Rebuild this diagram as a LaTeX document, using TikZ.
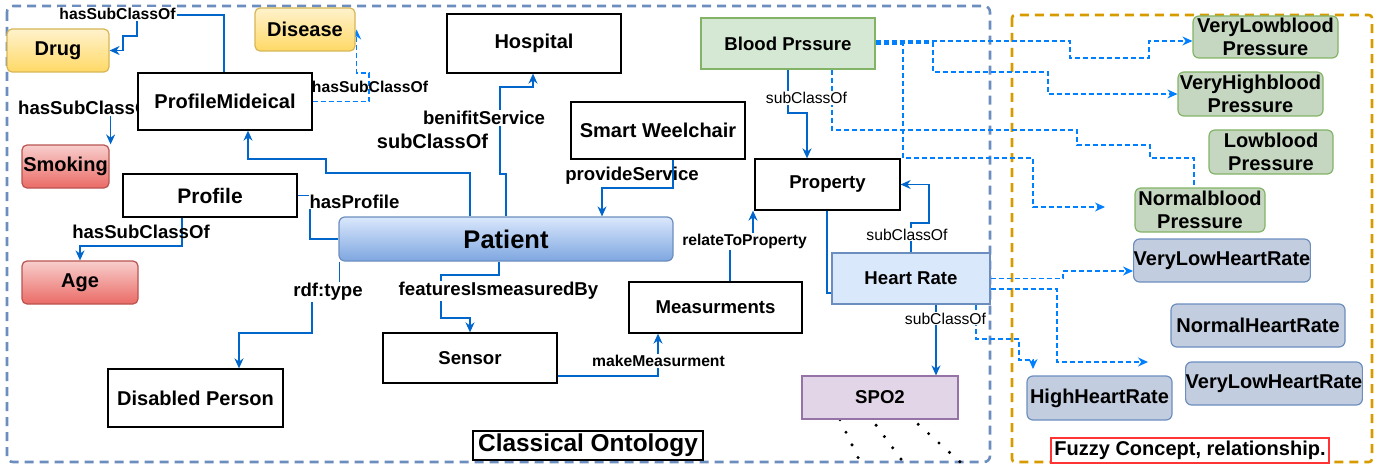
\documentclass[tikz,border=0pt]{standalone}
\usepackage{fontspec}
\setmainfont{Liberation Sans}
\usepackage{tikz}
\usetikzlibrary{arrows.meta}
\usepackage{xcolor}
\definecolor{ontoframe}{HTML}{6C8EBF}
\definecolor{fuzzyframe}{HTML}{D79B00}
\definecolor{linkblue}{HTML}{0066CC}
\definecolor{dashblue}{HTML}{007FFF}
\definecolor{yellowtop}{HTML}{FFF2CC}
\definecolor{yellowbot}{HTML}{FFD966}
\definecolor{yellowline}{HTML}{D6B656}
\definecolor{redtop}{HTML}{F8CECC}
\definecolor{redbot}{HTML}{EA6B66}
\definecolor{redline}{HTML}{B85450}
\definecolor{bluetop}{HTML}{DAE8FC}
\definecolor{bluebot}{HTML}{7EA6E0}
\definecolor{greenfill}{HTML}{D5E8D4}
\definecolor{greenline}{HTML}{82B366}
\definecolor{purplefill}{HTML}{E1D5E7}
\definecolor{purpleline}{HTML}{9673A6}
\definecolor{fuzzygreen}{HTML}{C5D7C1}
\definecolor{fuzzyblue}{HTML}{C3CDE0}
\definecolor{notered}{HTML}{FF3333}

\newcommand{\boxfont}{\bfseries\fontsize{20}{22}\selectfont}
\newcommand{\midfont}{\bfseries\fontsize{18.6}{21}\selectfont}
\newcommand{\labfont}{\bfseries\fontsize{18.6}{21}\selectfont}
\newcommand{\smalllabfont}{\bfseries\fontsize{15.7}{18}\selectfont}
\newcommand{\thinlabfont}{\fontsize{15.7}{18}\selectfont}

\pgfdeclarelayer{edges}
\pgfdeclarelayer{labels}
\pgfsetlayers{edges,labels,main}

\begin{document}
\begin{tikzpicture}[x=1pt, y=-1pt, >={Stealth[length=10pt,width=9pt]},
    box/.style={draw=black, line width=1.3pt, fill=white, inner sep=0pt, font=\boxfont},
    yellowbox/.style={draw=yellowline, line width=1.2pt, top color=yellowtop, bottom color=yellowbot, rounded corners=5pt, inner sep=0pt, font=\boxfont},
    redbox/.style={draw=redline, line width=1.2pt, top color=redtop, bottom color=redbot, rounded corners=5pt, inner sep=0pt, font=\boxfont},
    patientbox/.style={draw=ontoframe, line width=1.2pt, top color=bluetop, bottom color=bluebot, rounded corners=6pt, inner sep=0pt, font=\bfseries\fontsize{25.5}{27}\selectfont},
    fuzzybp/.style={draw=greenline, line width=1.2pt, fill=fuzzygreen, rounded corners=6pt, inner sep=0pt, align=center, font=\bfseries\fontsize{20}{23}\selectfont},
    fuzzyhr/.style={draw=ontoframe, line width=1.2pt, fill=fuzzyblue, rounded corners=6pt, inner sep=0pt, font=\boxfont},
    link/.style={draw=linkblue, line width=1.4pt},
    dlink/.style={draw=dashblue, line width=1.2pt, dash pattern=on 5pt off 3pt},
    dotline/.style={draw=black, line width=3.4pt, line cap=round, dash pattern=on 0pt off 14pt},
    lab/.style={font=\labfont, inner sep=1pt, fill=white},
    slab/.style={font=\smalllabfont, inner sep=1pt, fill=white},
    rlab/.style={font=\thinlabfont, inner sep=1pt, fill=white}]
    \useasboundingbox (0,0) rectangle (1391,468);

    % Nodes of the classical ontology
    \node[yellowbox, minimum width=102pt, minimum height=43pt] (drug) at (58,50.5) {Drug};
    \node[yellowbox, minimum width=100pt, minimum height=43pt] (disease) at (305,29.5) {Disease};
    \node[box, minimum width=174pt, minimum height=57pt] (pmed) at (225,101.5) {ProfileMideical};
    \node[redbox, minimum width=87pt, minimum height=43pt] (smoking) at (65.5,166.5) {Smoking};
    \node[box, minimum width=174pt, minimum height=43pt, font=\bfseries\fontsize{21}{23}\selectfont] (profile) at (210,195.5) {Profile};
    \node[redbox, minimum width=116pt, minimum height=43pt] (age) at (80,282.5) {Age};
    \node[box, minimum width=175pt, minimum height=58pt] (disabled) at (195.5,398) {Disabled Person};
    \node[box, minimum width=174pt, minimum height=59pt] (hospital) at (534,43.5) {Hospital};
    \node[box, minimum width=174pt, minimum height=57pt] (wheelchair) at (658,130.5) {Smart Weelchair};
    \node[patientbox, minimum width=334pt, minimum height=44pt] (patient) at (506,239) {Patient};
    \node[box, minimum width=174pt, minimum height=50pt, font=\midfont] (sensor) at (470,358) {Sensor};
    \node[box, minimum width=173pt, minimum height=51pt, font=\midfont] (measure) at (715.5,307.5) {Measurments};
    \node[draw=greenline, line width=1.2pt, fill=greenfill, inner sep=0pt, font=\midfont, minimum width=174pt, minimum height=51pt] (bp) at (788,43.5) {Blood Prssure};
    \node[box, minimum width=145pt, minimum height=51pt, font=\midfont] (property) at (827.5,184.5) {Property};
    \node[draw=ontoframe, line width=1.2pt, fill=bluetop, inner sep=0pt, font=\midfont, minimum width=158pt, minimum height=51pt] (heart) at (911,278.5) {Heart Rate};
    \node[draw=purpleline, line width=1.2pt, fill=purplefill, inner sep=0pt, font=\midfont, minimum width=156pt, minimum height=43pt] (spo2) at (880,397.5) {SPO2};
    \node[draw=black, line width=1.2pt, fill=white, inner sep=0pt, font=\bfseries\fontsize{24.4}{26}\selectfont, minimum width=230pt, minimum height=29pt] (ontotitle) at (588,445.5) {Classical Ontology};

    % Nodes of the fuzzy part
    \node[fuzzybp, minimum width=145pt, minimum height=42pt] (vlbp) at (1265.5,37) {VeryLowblood\\Pressure};
    \node[fuzzybp, minimum width=145pt, minimum height=44pt] (vhbp) at (1250.5,94) {VeryHighblood\\Pressure};
    \node[fuzzybp, minimum width=124pt, minimum height=44pt] (lbp) at (1271,152) {Lowblood\\Pressure};
    \node[fuzzybp, minimum width=130pt, minimum height=44pt] (nbp) at (1200,210) {Normalblood\\Pressure};
    \node[fuzzyhr, minimum width=174pt, minimum height=43pt] (vlhr) at (1222,260.5) {VeryLowHeartRate};
    \node[fuzzyhr, minimum width=174pt, minimum height=43pt] (nhr) at (1258,325.5) {NormalHeartRate};
    \node[fuzzyhr, minimum width=174pt, minimum height=43pt] (vlhrb) at (1274,383.5) {VeryLowHeartRate};
    \node[fuzzyhr, minimum width=145pt, minimum height=44pt] (hhr) at (1099.5,398) {HighHeartRate};
    \node[draw=notered, line width=1.2pt, fill=white, inner sep=0pt, font=\boxfont, minimum width=278pt, minimum height=25pt] (fuzzytitle) at (1190,450.5) {Fuzzy Concept, relationship.};

    % Free ends of the fuzzy links
    \coordinate (lbparrow) at (1105,207);
    \coordinate (nhrarrow) at (1148,362);
    \coordinate (hhrarrow) at (1033,369);
    \coordinate (dotend1) at (864,470);
    \coordinate (dotend2) at (909,470);
    \coordinate (dotend3) at (969,470);

    \begin{pgfonlayer}{edges}
        % Frames
        \draw[ontoframe, line width=2.6pt, dash pattern=on 9pt off 6pt, rounded corners=6pt] (7,6) rectangle (990,462);
        \draw[fuzzyframe, line width=2.6pt, dash pattern=on 9pt off 6pt, rounded corners=3pt] (1012,15) rectangle (1372,462);

        % Solid links
        \draw[link,->] ([xshift=-1pt]pmed.north) |- (137,15) |- (123,36) |- (drug.east);
        \draw[link,->] (pmed.west) -| ([xshift=1pt]smoking.north east);
        \draw[link,->] ([xshift=-36pt]patient.north) |- (326,173) |- (248,159) -- ([xshift=23pt]pmed.south);
        \draw[link,->] (patient.north) |- (500,174) |- (533,87) -- ([xshift=-1pt]hospital.south);
        \draw[link] (profile.east) -| (310,239) -- (patient.west);
        \draw[link,->] ([xshift=-28pt]profile.south) |- (80,246) -- (age.north);
        \draw[link,->] ([xshift=1pt]patient.south west) |- (312,290) |- (239,333) -- ([xshift=43.5pt]disabled.north);
        \draw[link,->] ([xshift=-7pt]patient.south) |- (441,275) |- (470,318) -- (sensor.north);
        \draw[link,->] ([xshift=15pt]wheelchair.south) |- (602,188) -- ([xshift=96pt]patient.north);
        \draw[link,->] ([yshift=-18pt]sensor.east) -| ([xshift=-57.5pt]measure.south);
        \draw[link,->] ([xshift=14.5pt]measure.north) |- (753,234) -- ([xshift=-74.5pt]property.south);
        \draw[link,->] (bp.south) |- (807,113) -- ([xshift=-20.5pt]property.north);
        \draw[link,->] (heart.north) |- (929,223) |- (property.east);
        \draw[link] ([xshift=-0.5pt]property.south) |- ([yshift=-14.5pt]heart.west);
        \draw[link,->] ([xshift=25pt]heart.south) -- ([xshift=56pt]spo2.north);

        % Dashed links
        \draw[dlink,->] (pmed.east) -| (369,73) -| ([xshift=1pt]disease.east);
        \draw[dlink,->] ([yshift=2.5pt]bp.east) -| (1070,58) -| (1149,41) -- ([yshift=-4pt]vlbp.west);
        \draw[dlink,->] ([yshift=0.5pt]bp.east) -| (933,72) -| (1048,94) -- (vhbp.west);
        \draw[dlink] ([xshift=44pt]bp.south) |- (1077,130) |- (1150,145) |- (1194,158) -- ([xshift=-6pt]nbp.north);
        \draw[dlink,->] ([yshift=-0.5pt]bp.east) -| (903,158) -| (1033,207) -- (lbparrow);
        \draw[dlink,->] (heart.east) -| (1063,271) -- ([yshift=-10.5pt]vlhr.west);
        \draw[dlink,->] ([yshift=-10.5pt]heart.east) -| (1057,362) -- (nhrarrow);
        \draw[dlink,->] ([xshift=65pt]heart.south) |- (1019,339) |- (1033,360) -- (hhrarrow);

        % Dotted lines below SPO2
        \draw[dotline] ([xshift=-40pt]spo2.south) -- (dotend1);
        \draw[dotline, dash phase=7pt] ([xshift=-8pt]spo2.south) -- (dotend2);
        \draw[dotline, dash phase=7pt] ([xshift=33pt]spo2.south) -- (dotend3);
    \end{pgfonlayer}

    \begin{pgfonlayer}{labels}
        % Link labels
        \node[slab] (ldrug) at (117.5,14) {hasSubClassOf};
        \node[lab, anchor=west] (lsmoking) at (17,108) {hasSubClassOf};
        \node[slab, fill=none] (ldisease) at (370,86.5) {hasSubClassOf};
        \node[lab] (lhospital) at (484,118) {benifitService};
        \node[lab, fill=none, font=\boxfont] (lsubclass) at (432.5,141) {subClassOf};
        \node[lab] (lprofile) at (354.5,201.5) {hasProfile};
        \node[lab, fill=none] (lage) at (141,231.5) {hasSubClassOf};
        \node[lab] (ltype) at (328,292) {rdf:type};
        \node[lab] (lsensor) at (498.5,291) {featuresIsmeasuredBy};
        \node[lab, fill=none] (lservice) at (632,176) {provideService};
        \node[slab] (lmeasure) at (658.5,361) {makeMeasurment};
        \node[slab] (lproperty) at (744.5,241.5) {relateToProperty};
        \node[rlab] (lbp) at (806.5,98) {subClassOf};
        \node[rlab] (lheartup) at (907,234.5) {subClassOf};
        \node[rlab] (lheartdown) at (945.5,318.5) {subClassOf};
    \end{pgfonlayer}
\end{tikzpicture}
\end{document}
